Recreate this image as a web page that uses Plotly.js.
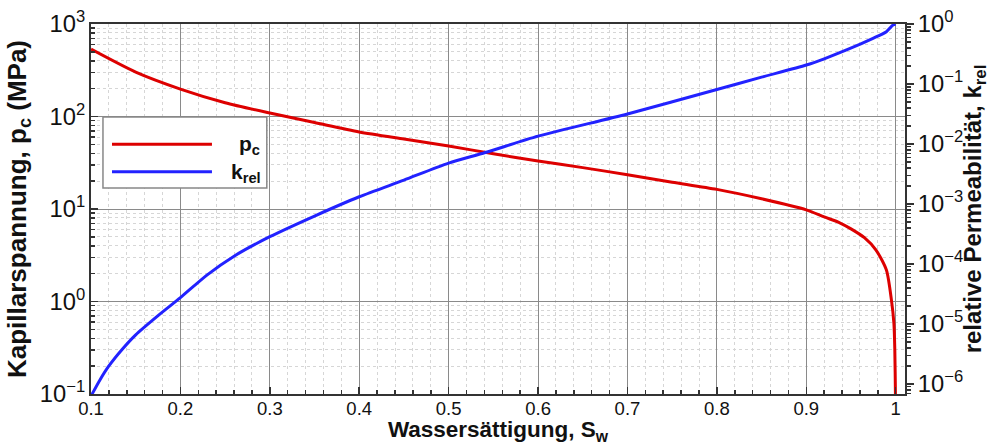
<!DOCTYPE html>
<html>
<head>
<meta charset="utf-8">
<script src="https://cdn.plot.ly/plotly-3.0.1.min.js"></script>
<style>html,body{margin:0;padding:0;background:#fff;}#chart{width:990px;height:445px;}</style>
</head>
<body>
<div id="chart"></div>
<script>
// Capillary pressure p_c (MPa) vs water saturation
const swPc = [0.1, 0.15, 0.2, 0.25, 0.3, 0.35, 0.4, 0.45, 0.5, 0.55, 0.6, 0.65, 0.7, 0.75, 0.8, 0.85, 0.9, 0.92, 0.9374, 0.95, 0.965, 0.978, 0.9896, 0.9952, 0.998, 0.999, 0.9997, 1.0];
const pc = [535, 302, 198, 141, 109, 86, 68, 57, 48, 39.5, 33, 28, 23.5, 19.5, 16.3, 12.9, 9.8, 8.2, 7.1, 6.1, 4.9, 3.6, 2.19, 1.04, 0.58, 0.30, 0.1, 0.05];
// Relative permeability k_rel vs water saturation
const swKr = [0.1, 0.11, 0.12, 0.135, 0.15, 0.175, 0.2, 0.23, 0.26, 0.3, 0.35, 0.4, 0.45, 0.5, 0.541, 0.6, 0.7, 0.8, 0.85, 0.9, 0.92, 0.945, 0.9746, 0.9896, 0.997, 1.0];
const krel = [6.3e-7, 1.17e-6, 2.0e-6, 3.8e-6, 6.6e-6, 1.38e-5, 2.75e-5, 6.6e-5, 1.35e-4, 2.85e-4, 6.3e-4, 1.32e-3, 2.5e-3, 4.8e-3, 7.2e-3, 1.35e-2, 3.16e-2, 8.1e-2, 0.130, 0.207, 0.263, 0.369, 0.577, 0.745, 0.962, 1.0];

const seriesNames = ['p<sub>c</sub>', 'k<sub>rel</sub>'];
const xTitle = 'Wassersättigung, S<sub>w</sub>';
const yTitle = 'Kapillarspannung, p<sub>c</sub> (MPa)';
const y2Title = 'relative Permeabilität, k<sub>rel</sub>';
const leftAlias = {'1': '10<sup>0</sup>', '10': '10<sup>1</sup>'};
const rightAlias = {'1': '10<sup>0</sup>'};

const RED = '#dd0000', BLUE = '#2222ff';
const FONT = 'Liberation Sans, Arial, sans-serif';

const traces = [
  {x: swPc, y: pc, type: 'scatter', mode: 'lines', name: seriesNames[0], line: {color: RED, width: 3, shape: 'spline', smoothing: 0.7}, yaxis: 'y'},
  {x: swKr, y: krel, type: 'scatter', mode: 'lines', name: seriesNames[1], line: {color: BLUE, width: 3, shape: 'spline', smoothing: 0.7}, yaxis: 'y2'}
];

const tickFont = {family: FONT, size: 19, color: '#111'};
const lx0 = 0.0147, lx1 = 0.216, ly0 = 0.557, ly1 = 0.7486;
const layout = {
  width: 990, height: 445,
  margin: {l: 91, r: 85, t: 24, b: 51},
  paper_bgcolor: '#fff', plot_bgcolor: '#fff',
  showlegend: false,
  font: {family: FONT, color: '#111', size: 18},
  xaxis: {
    range: [0.1, 1.0104], dtick: 0.1, tick0: 0.1,
    showline: true, linecolor: '#333', linewidth: 2, mirror: true,
    ticks: 'inside', ticklen: 7, tickwidth: 1.5, tickcolor: '#333',
    showgrid: true, gridcolor: '#8a8a8a', gridwidth: 1,
    zeroline: false,
    tickfont: {family: FONT, size: 18.5, color: '#111'},
    ticklabelstandoff: -3,
    minor: {dtick: 0.02, ticks: 'inside', ticklen: 4, tickcolor: '#333', showgrid: true, gridcolor: '#d6d6d6', griddash: 'dot', gridwidth: 1},
    title: {text: xTitle, font: {family: FONT, size: 22.5, weight: 'bold', color: '#111'}, standoff: 0}
  },
  yaxis: {
    type: 'log', range: [-1, 3], dtick: 1,
    exponentformat: 'power', labelalias: leftAlias,
    showline: true, linecolor: '#333', linewidth: 2, mirror: true,
    ticks: 'inside', ticklen: 7, tickwidth: 1.5, tickcolor: '#333',
    showgrid: true, gridcolor: '#8a8a8a', gridwidth: 1,
    zeroline: false,
    tickfont: tickFont,
    minor: {dtick: 'D1', ticks: 'inside', ticklen: 4, tickcolor: '#333', showgrid: true, gridcolor: '#d6d6d6', griddash: 'dot', gridwidth: 1},
    title: {text: yTitle, font: {family: FONT, size: 26, weight: 'bold', color: '#111'}, standoff: 6}
  },
  yaxis2: {
    type: 'log', range: [-6.1667, 0], dtick: 1,
    overlaying: 'y', side: 'right',
    exponentformat: 'power', labelalias: rightAlias,
    showline: true, linecolor: '#333', linewidth: 2,
    ticks: 'outside', ticklen: 7, tickwidth: 1.5, tickcolor: '#333',
    showgrid: false, zeroline: false,
    tickfont: tickFont,
    minor: {dtick: 'D1', ticks: 'outside', ticklen: 4, tickcolor: '#333', showgrid: false},
    title: {text: y2Title, font: {family: FONT, size: 24, weight: 'bold', color: '#111'}, standoff: 6}
  },
  shapes: [
    {type: 'rect', xref: 'paper', yref: 'paper', x0: lx0, x1: lx1, y0: ly0, y1: ly1, fillcolor: '#fff', line: {color: '#888', width: 1.5}, layer: 'above'},
    {type: 'line', xref: 'paper', yref: 'paper', x0: 0.0258, x1: 0.1486, y0: 0.675, y1: 0.675, line: {color: RED, width: 3}, layer: 'above'},
    {type: 'line', xref: 'paper', yref: 'paper', x0: 0.0258, x1: 0.1486, y0: 0.601, y1: 0.601, line: {color: BLUE, width: 3}, layer: 'above'}
  ],
  annotations: [
    {xref: 'paper', yref: 'paper', x: 0.179, y: 0.672, xanchor: 'left', yanchor: 'middle', showarrow: false, text: '<b>' + seriesNames[0] + '</b>', font: {family: FONT, size: 21, color: '#111'}},
    {xref: 'paper', yref: 'paper', x: 0.170, y: 0.598, xanchor: 'left', yanchor: 'middle', showarrow: false, text: '<b>' + seriesNames[1] + '</b>', font: {family: FONT, size: 21, color: '#111'}}
  ]
};

Plotly.newPlot('chart', traces, layout, {staticPlot: true, displayModeBar: false});
</script>
</body>
</html>
